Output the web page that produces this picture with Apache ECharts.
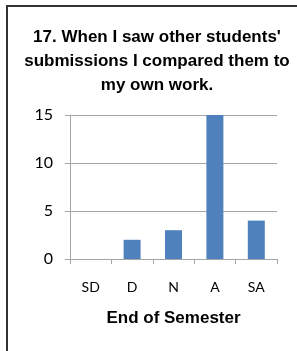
<!DOCTYPE html>
<html>
<head>
<meta charset="utf-8">
<script src="https://cdn.jsdelivr.net/npm/echarts@6/dist/echarts.min.js"></script>
<style>
  html, body { margin: 0; padding: 0; background: #fff; }
  #chart { width: 297px; height: 351px; }
</style>
</head>
<body>
<div id="chart"></div>
<script>
// responses at end of semester
const categories = ['SD', 'D', 'N', 'A', 'SA']
const counts = [0, 2, 3, 15, 4]
const yTicks = [0, 5, 10, 15]

const chart = echarts.init(document.getElementById('chart'))

const option = {
  animation: false,
  title: {
    text: "17. When I saw other students'\nsubmissions I compared them to\nmy own work.",
    left: 152,
    top: 20,
    textAlign: 'center',
    textStyle: {
      fontFamily: 'Liberation Sans',
      fontSize: 17,
      fontWeight: 'bold',
      color: '#000',
      lineHeight: 24
    }
  },
  graphic: [
    {
      type: 'rect',
      shape: { x: 7, y: 6, width: 400, height: 400 },
      style: { fill: 'none', stroke: '#333', lineWidth: 2 }
    }
  ],
  grid: {
    left: 70,
    right: 20,
    top: 115,
    bottom: 92
  },
  xAxis: {
    type: 'category',
    data: categories,
    name: 'End of Semester',
    nameLocation: 'middle',
    nameGap: 51,
    nameTextStyle: {
      fontFamily: 'Liberation Sans',
      fontSize: 17,
      fontWeight: 'bold',
      color: '#000'
    },
    axisLine: { lineStyle: { color: '#a6a6a6', width: 1 } },
    axisTick: { show: true, length: 5, lineStyle: { color: '#a6a6a6' } },
    axisLabel: {
      margin: 21,
      fontFamily: 'Lato',
      fontSize: 14,
      color: '#000'
    }
  },
  yAxis: {
    type: 'value',
    min: yTicks[0],
    max: yTicks[yTicks.length - 1],
    interval: 5,
    axisLine: { show: true, lineStyle: { color: '#a6a6a6', width: 1 } },
    axisTick: { show: true, length: 5, lineStyle: { color: '#a6a6a6' } },
    splitLine: { lineStyle: { color: '#a6a6a6', width: 1 } },
    axisLabel: {
      margin: 17,
      fontFamily: 'Lato',
      fontSize: 16,
      color: '#000'
    }
  },
  series: [
    {
      type: 'bar',
      data: counts,
      barWidth: 17,
      itemStyle: { color: '#4f81bd' }
    }
  ]
}

chart.setOption(option)
</script>
</body>
</html>
